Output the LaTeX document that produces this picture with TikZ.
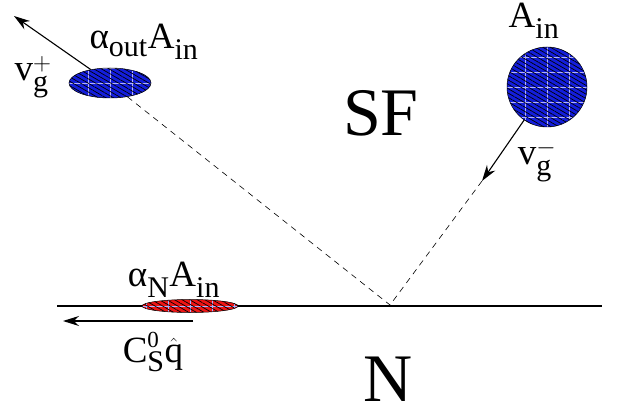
\documentclass[tikz,border=0pt]{standalone}
\usepackage{amsmath}
\usepackage{fontspec}
\setmainfont{Liberation Serif}
\usetikzlibrary{positioning,arrows.meta,shapes.geometric,patterns.meta}
\DeclareMathSizes{37}{37}{30}{23}
\definecolor{blobblue}{RGB}{20,30,220}
\definecolor{blobred}{RGB}{240,20,20}

\begin{document}
\begin{tikzpicture}[x=1pt,y=-1pt,
      blob/.style={draw=black,line width=0.5pt,inner sep=0pt,
                   path picture={\draw[blue!30!white,line width=0.4pt,xstep=22pt,ystep=15pt]
                     (path picture bounding box.south west) grid (path picture bounding box.north east);},
                   postaction={pattern={Lines[angle=-30,distance=3.8pt,line width=0.7pt]},pattern color=black}},
      lbl/.style={inner sep=0pt,font=\fontsize{37}{40}\selectfont},
      big/.style={inner sep=0pt,font=\fontsize{68}{72}\selectfont},
      vel/.style={line width=1.1pt,-{Stealth[length=16pt,width=10pt]}},
      ray/.style={line width=0.6pt,dash pattern=on 6pt off 5pt}]

    \useasboundingbox (0,0) rectangle (626,414);

    \coordinate (lend) at (57,306);
    \coordinate (rend) at (602,306);
    \coordinate (refl) at (390,305);
    \coordinate (vmtip) at (482,181);
    \coordinate (vptip) at (14,16);
    \coordinate (cstail) at (193,321);
    \coordinate (cshead) at (63,321);

    \draw[line width=2pt] (lend) -- (rend);

    \node[blob,ellipse,fill=blobblue,minimum width=82pt,minimum height=30pt] (aout) at (110,83) {};
    \node[blob,circle,fill=blobblue,minimum size=80pt] (ain) at (547,87) {};
    \node[blob,ellipse,fill=blobred,minimum width=96pt,minimum height=13pt] (an) at (190,306) {};

    \draw[ray] (aout) -- (refl);
    \draw[ray] (vmtip) -- (refl);
    \draw[vel] (aout) -- (vptip);
    \draw[vel] (ain) -- (vmtip);
    \draw[vel] (cstail) -- (cshead);

    \node[lbl] (laout) at (144,42) {$\text{α}_{\text{out}}\text{A}_{\text{in}}$};
    \node[lbl] (lvp) at (33,77) {$\text{v}_{\text{g}}^{\scriptscriptstyle +}$};
    \node[lbl] (lain) at (534,21) {$\text{A}_{\text{in}}$};
    \node[lbl] (lvm) at (537,161) {$\text{v}_{\text{g}}^{\scriptscriptstyle -}$};
    \node[lbl] (lan) at (174,280) {$\text{α}_{\text{N}}\text{A}_{\text{in}}$};
    \node[lbl] (lcs) at (153,352) {$\text{C}_{\text{S}}^{\scriptscriptstyle\text{0}}\hat{\text{q}}$};
    \node[big] (sf) at (381,113) {SF};
    \node[big] (nn) at (388,379) {N};
  \end{tikzpicture}
\end{document}
